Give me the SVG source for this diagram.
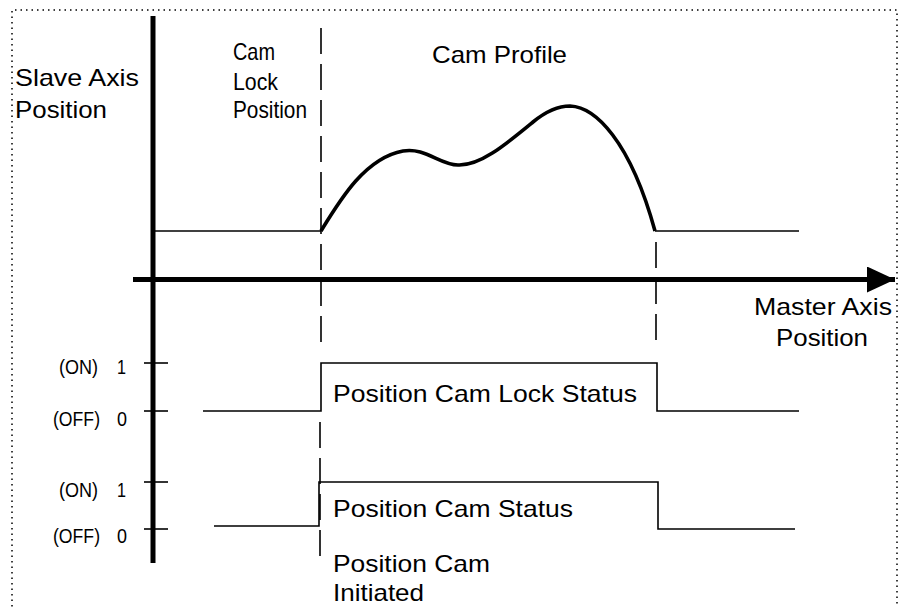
<svg xmlns="http://www.w3.org/2000/svg" width="902" height="607" viewBox="0 0 902 607">
<style>
  text { font-family: "Liberation Sans", Arial, sans-serif; fill: #000; }
  .lbl { font-size: 24px; }
  .sm { font-size: 20px; }
  .thin { stroke: #000; stroke-width: 1.6; fill: none; }
  .axis { stroke: #000; stroke-width: 5; fill: none; }
  .dash { stroke: #000; stroke-width: 1.6; fill: none; stroke-dasharray: 26 10; }
  .border { stroke: #000; stroke-width: 1.5; fill: none; stroke-dasharray: 1.5 4; }
</style>
<defs>
  <marker id="arrow" markerUnits="userSpaceOnUse" markerWidth="30" markerHeight="26" refX="28" refY="13" orient="auto">
    <path d="M0,0 L28,13 L0,26 Z" fill="#000"/>
  </marker>
</defs>
<rect width="902" height="607" fill="#fff"/>
<path class="border" d="M12,612 L12,10 L897,10 L897,612"/>

<g id="slave-axis">
  <line class="axis" x1="153" y1="16" x2="153" y2="563"/>
  <text class="lbl" x="15" y="86" textLength="124" lengthAdjust="spacingAndGlyphs">Slave Axis</text>
  <text class="lbl" x="15" y="118" textLength="92" lengthAdjust="spacingAndGlyphs">Position</text>
</g>

<g id="master-axis">
  <line class="axis" x1="133" y1="279.5" x2="895" y2="279.5" marker-end="url(#arrow)"/>
  <text class="lbl" x="754" y="315" textLength="138" lengthAdjust="spacingAndGlyphs">Master Axis</text>
  <text class="lbl" x="776" y="346" textLength="92" lengthAdjust="spacingAndGlyphs">Position</text>
</g>

<g id="cam-lock-position-label">
  <text class="lbl" x="233" y="60" textLength="42" lengthAdjust="spacingAndGlyphs">Cam</text>
  <text class="lbl" x="233" y="90" textLength="45" lengthAdjust="spacingAndGlyphs">Lock</text>
  <text class="lbl" x="233" y="118" textLength="74" lengthAdjust="spacingAndGlyphs">Position</text>
</g>

<g id="cam-profile">
  <text class="lbl" x="432" y="63" textLength="135" lengthAdjust="spacingAndGlyphs">Cam Profile</text>
  <path class="thin" d="M153,231 L321,231"/>
  <path d="M321,231 C340,200 365,158 403,151 C425,147 440,165 458,165 C480,166 505,145 533,122 C547,110.5 560,106 570,106 C595,107 630,140 655,231" stroke="#000" stroke-width="3.6" fill="none" stroke-linejoin="round"/>
  <path class="thin" d="M655,231 L799,231"/>
</g>

<g id="lock-status-scale">
  <line class="thin" x1="144" y1="363" x2="168" y2="363"/>
  <line class="thin" x1="144" y1="411" x2="168" y2="411"/>
  <text class="sm" x="59" y="374" textLength="39" lengthAdjust="spacingAndGlyphs">(ON)</text>
  <text class="sm" x="117" y="374" textLength="9" lengthAdjust="spacingAndGlyphs">1</text>
  <text class="sm" x="53" y="426" textLength="47" lengthAdjust="spacingAndGlyphs">(OFF)</text>
  <text class="sm" x="117" y="426" textLength="10" lengthAdjust="spacingAndGlyphs">0</text>
</g>

<g id="lock-status-signal">
  <path class="thin" d="M203,411 L321,411 L321,363 L657,363 L657,411 L799,411"/>
  <text class="lbl" x="333" y="402" textLength="304" lengthAdjust="spacingAndGlyphs">Position Cam Lock Status</text>
</g>

<g id="cam-status-scale">
  <line class="thin" x1="144" y1="482" x2="168" y2="482"/>
  <line class="thin" x1="144" y1="529" x2="168" y2="529"/>
  <text class="sm" x="59" y="497" textLength="39" lengthAdjust="spacingAndGlyphs">(ON)</text>
  <text class="sm" x="117" y="497" textLength="9" lengthAdjust="spacingAndGlyphs">1</text>
  <text class="sm" x="53" y="543" textLength="47" lengthAdjust="spacingAndGlyphs">(OFF)</text>
  <text class="sm" x="117" y="543" textLength="10" lengthAdjust="spacingAndGlyphs">0</text>
</g>

<g id="cam-status-signal">
  <path class="thin" d="M214,526 L319,526 L319,482 L658,482 L658,529 L795,529"/>
  <text class="lbl" x="333" y="517" textLength="240" lengthAdjust="spacingAndGlyphs">Position Cam Status</text>
</g>

<g id="position-cam-initiated">
  <text class="lbl" x="333" y="572" textLength="157" lengthAdjust="spacingAndGlyphs">Position Cam</text>
  <text class="lbl" x="333" y="601" textLength="91" lengthAdjust="spacingAndGlyphs">Initiated</text>
</g>

<g id="connectors">
  <line class="dash" x1="321" y1="28" x2="321" y2="350"/>
  <line class="dash" x1="320" y1="422" x2="320" y2="558" stroke-dasharray="25 11"/>
  <line class="dash" x1="656" y1="242" x2="656" y2="345"/>
</g>
</svg>
